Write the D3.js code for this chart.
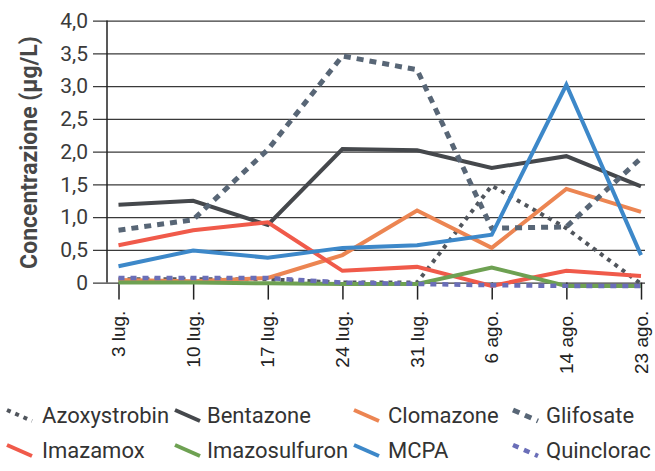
<!DOCTYPE html>
<html>
<head>
<meta charset="utf-8">
<script src="https://cdn.jsdelivr.net/npm/d3@7"></script>
<style>
    body { margin: 0; background: #fff; }
    svg { display: block; }
</style>
</head>
<body>
<script>
// Data
let dates = ["3 lug.", "10 lug.", "17 lug.", "24 lug.", "31 lug.", "6 ago.", "14 ago.", "23 ago."];
let azoxystrobin  = [0.05, 0.05, 0.05, 0.0, 0.0, 1.48, 0.83, -0.02];
let bentazone     = [1.19, 1.25, 0.88, 2.04, 2.02, 1.75, 1.93, 1.47];
let clomazone     = [0.04, 0.02, 0.07, 0.42, 1.10, 0.53, 1.43, 1.08];
let glifosate     = [0.80, 0.96, 2.03, 3.46, 3.25, 0.83, 0.85, 1.90];
let imazamox      = [0.57, 0.80, 0.92, 0.18, 0.24, -0.05, 0.18, 0.10];
let imazosulfuron = [0.0, 0.0, -0.01, -0.02, -0.02, 0.23, -0.05, -0.05];
let mcpa          = [0.25, 0.49, 0.38, 0.53, 0.57, 0.73, 3.02, 0.42];
let quinclorac    = [0.07, 0.07, 0.07, 0.0, -0.02, -0.04, -0.05, -0.05];
let yTicks = [0, 0.5, 1, 1.5, 2, 2.5, 3, 3.5, 4];

let series = [
    { name: "Azoxystrobin",  values: azoxystrobin,  color: "#50555c", width: 4,   dash: "4,5" },
    { name: "Bentazone",     values: bentazone,     color: "#45484c", width: 4,   dash: null },
    { name: "Clomazone",     values: clomazone,     color: "#ec8552", width: 4,   dash: null },
    { name: "Glifosate",     values: glifosate,     color: "#586676", width: 5,   dash: "7,6" },
    { name: "Imazamox",      values: imazamox,      color: "#f05a4a", width: 4,   dash: null },
    { name: "Imazosulfuron", values: imazosulfuron, color: "#6ea152", width: 4,   dash: null },
    { name: "MCPA",          values: mcpa,          color: "#3d88c9", width: 4,   dash: null },
    { name: "Quinclorac",    values: quinclorac,    color: "#6a6eb8", width: 4.5, dash: "6,6" }
];

let opts = {
    width: 655,
    height: 471,
    axisX: 107,
    gridLeft: 93,
    gridRight: 645,
    top: 20.6,
    bottom: 282.6
};

let svg = d3.select("body")
            .append("svg")
            .attr("width", opts.width)
            .attr("height", opts.height);

let x = d3.scalePoint()
          .domain(dates)
          .range([118.5, 641]);

let y = d3.scaleLinear()
          .domain([0, 4])
          .range([opts.bottom, opts.top]);

drawGrid();
drawAxes();
drawLines();
drawLegend();

// Horizontal grid lines with the y tick labels
function drawGrid() {
    let yAxis = d3.axisLeft(y)
                  .tickValues(yTicks)
                  .tickSize(-(opts.gridRight - opts.gridLeft))
                  .tickPadding(4)
                  .tickFormat((d) => d === 0 ? "0" : d3.format(".1f")(d).replace(".", ","));

    let g = svg.append("g")
               .attr("transform", `translate(${opts.gridLeft},0)`)
               .call(yAxis);

    g.select(".domain").remove();
    g.selectAll(".tick line")
     .attr("stroke", "#3a3a3a")
     .attr("stroke-width", 1.2);
    g.selectAll(".tick text")
     .attr("x", -5)
     .attr("fill", "#3a3a3a")
     .style("font-family", "Roboto, 'Liberation Sans', sans-serif")
     .style("font-size", "21px");

    // y title
    svg.append("text")
       .attr("transform", `translate(37,${(opts.top + opts.bottom) / 2 + 1}) rotate(-90)`)
       .attr("text-anchor", "middle")
       .attr("fill", "#474747")
       .style("font-family", "Roboto, 'Liberation Sans', sans-serif")
       .style("font-weight", "bold")
       .style("font-size", "23px")
       .text("Concentrazione (µg/L)");
}

// Vertical axis line and the date ticks
function drawAxes() {
    svg.append("line")
       .attr("x1", opts.axisX).attr("x2", opts.axisX)
       .attr("y1", opts.top).attr("y2", opts.bottom)
       .attr("stroke", "#222")
       .attr("stroke-width", 1.5);

    let xAxis = d3.axisBottom(x)
                  .tickSize(17)
                  .tickPadding(0);

    let g = svg.append("g")
               .attr("transform", `translate(0,${opts.bottom})`)
               .call(xAxis);

    g.select(".domain").remove();
    g.selectAll(".tick line")
     .attr("stroke", "#222")
     .attr("stroke-width", 1.5);
    g.selectAll(".tick text")
     .attr("transform", "translate(6,28) rotate(-90)")
     .attr("x", 0)
     .attr("y", 0)
     .attr("dy", null)
     .attr("text-anchor", "end")
     .attr("fill", "#222")
     .style("font-family", "'Liberation Sans', Arial, sans-serif")
     .style("font-size", "19px");
}

// One path per series
function drawLines() {
    let line = d3.line()
                 .x((d, i) => x(dates[i]))
                 .y((d) => y(d));

    svg.append("g")
       .selectAll("path")
       .data(series)
       .enter()
       .append("path")
       .attr("d", (d) => line(d.values))
       .attr("fill", "none")
       .attr("stroke", (d) => d.color)
       .attr("stroke-width", (d) => d.width)
       .attr("stroke-dasharray", (d) => d.dash)
       .attr("stroke-linejoin", "miter");
}

// Legend in four columns, two rows
function drawLegend() {
    let colSymbol = [7, 175, 354, 513];
    let colText = [42, 207, 388, 546];
    let rowY = [423, 458];

    let items = svg.append("g")
                   .selectAll("g")
                   .data(series)
                   .enter()
                   .append("g")
                   .attr("transform", (d, i) => `translate(0,${rowY[Math.floor(i / 4)]})`);

    items.append("line")
         .attr("x1", (d, i) => colSymbol[i % 4])
         .attr("y1", -13)
         .attr("x2", (d, i) => colSymbol[i % 4] + 25)
         .attr("y2", -2)
         .attr("stroke", (d) => d.color)
         .attr("stroke-width", (d) => d.width)
         .attr("stroke-dasharray", (d) => d.dash);

    items.append("text")
         .attr("x", (d, i) => colText[i % 4])
         .attr("fill", "#333")
         .style("font-family", "Roboto, 'Liberation Sans', sans-serif")
         .style("font-size", "22px")
         .text((d) => d.name);
}
</script>
</body>
</html>
